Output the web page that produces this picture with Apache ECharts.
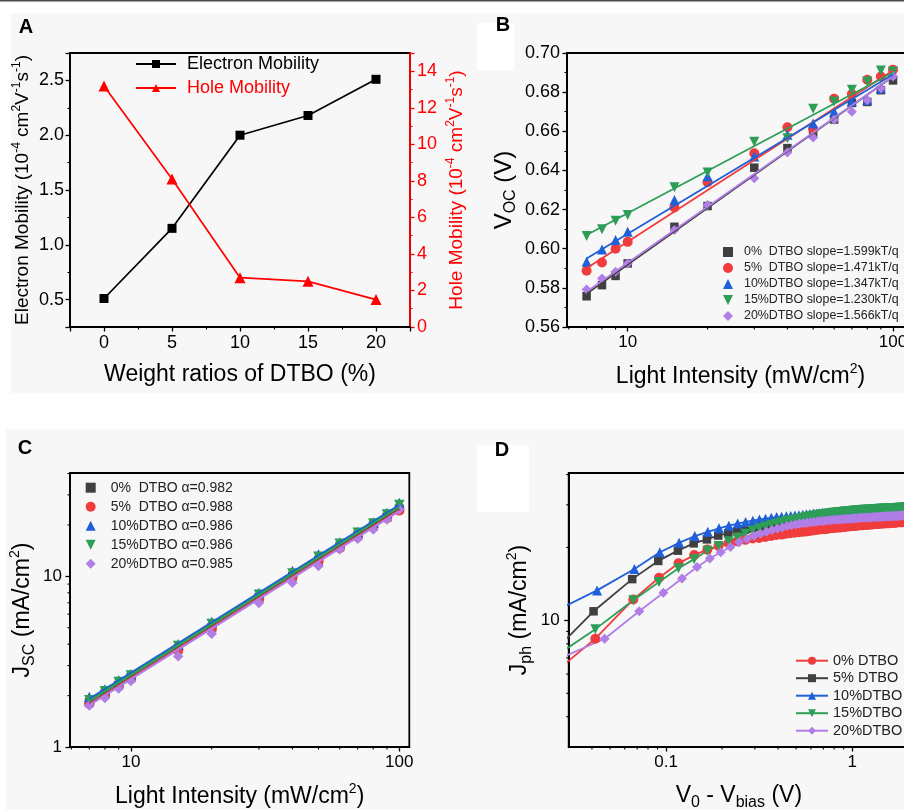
<!DOCTYPE html>
<html><head><meta charset="utf-8">
<script src="https://cdn.jsdelivr.net/npm/echarts@6/dist/echarts.min.js"></script>
<style>html,body{margin:0;padding:0;background:#fff}#c{width:904px;height:810px}</style>
</head><body><div id="c"></div>
<script>
// ---------------- Panel A ----------------
const weightRatios = [0, 5, 10, 15, 20];
const electronMobility = [0.51, 1.15, 2.00, 2.18, 2.51];
const holeMobility = [13.2, 8.1, 2.7, 2.5, 1.5];

// ---------------- Panel B ----------------
const intensity = [7, 8, 9, 10, 15, 20, 30, 40, 50, 60, 70, 80, 90, 100];
const voc0  = [0.5757, 0.5814, 0.5861, 0.5925, 0.6112, 0.6218, 0.6414, 0.6514, 0.6590, 0.6660, 0.6745, 0.6750, 0.6810, 0.6860];
const voc5  = [0.5887, 0.5930, 0.6000, 0.6035, 0.6211, 0.6340, 0.6488, 0.6621, 0.6612, 0.6766, 0.6790, 0.6863, 0.6880, 0.6915];
const voc10 = [0.5933, 0.5996, 0.6044, 0.6087, 0.6249, 0.6370, 0.6471, 0.6582, 0.6640, 0.6700, 0.6752, 0.6760, 0.6820, 0.6898];
const voc15 = [0.6065, 0.6099, 0.6143, 0.6172, 0.6314, 0.6389, 0.6547, 0.6565, 0.6715, 0.6752, 0.6812, 0.6855, 0.6911, 0.6906];
const voc20 = [0.5792, 0.5848, 0.5882, 0.5925, 0.6095, 0.6223, 0.6360, 0.6491, 0.6568, 0.6659, 0.6700, 0.6760, 0.6820, 0.6880];
const fitX = [7, 100];
const vocFit0  = [0.577, 0.688];
const vocFit5  = [0.590, 0.691];
const vocFit10 = [0.595, 0.689];
const vocFit15 = [0.607, 0.690];
const vocFit20 = [0.578, 0.688];
const namesB = ['0%  DTBO slope=1.599kT/q', '5%  DTBO slope=1.471kT/q', '10%DTBO slope=1.347kT/q', '15%DTBO slope=1.230kT/q', '20%DTBO slope=1.566kT/q'];

// ---------------- Panel C ----------------
const jsc0  = [1.82, 2.05, 2.30, 2.55, 3.75, 5.00, 7.50, 10.0, 12.4, 14.9, 17.3, 19.7, 22.2, 24.8];
const jsc5  = [1.80, 2.03, 2.28, 2.52, 3.72, 4.95, 7.40, 9.90, 12.3, 14.7, 17.1, 19.5, 22.0, 24.4];
const jsc10 = [1.96, 2.17, 2.46, 2.67, 4.00, 5.40, 7.99, 10.75, 13.4, 15.8, 18.2, 20.7, 23.5, 26.9];
const jsc15 = [1.88, 2.12, 2.40, 2.62, 3.90, 5.25, 7.80, 10.4, 13.0, 15.5, 18.0, 20.4, 23.0, 26.2];
const jsc20 = [1.75, 1.94, 2.20, 2.44, 3.40, 4.61, 6.98, 9.18, 11.5, 14.4, 16.6, 18.8, 21.5, 24.6];
const jscFit0  = [1.80, 24.7];
const jscFit5  = [1.78, 24.4];
const jscFit10 = [1.91, 26.1];
const jscFit15 = [1.86, 25.5];
const jscFit20 = [1.76, 24.1];
const namesC = ['0%  DTBO \u03b1=0.982', '5%  DTBO \u03b1=0.988', '10%DTBO \u03b1=0.986', '15%DTBO \u03b1=0.986', '20%DTBO \u03b1=0.985'];

// ---------------- Panel D ----------------
const vBias = [0.675,0.65,0.625,0.6,0.575,0.55,0.525,0.5,0.475,0.45,0.425,0.4,0.375,0.35,0.325,0.3,0.275,0.25,0.225,0.2,
  0.175,0.15,0.125,0.1,0.075,0.05,0.025,0,-0.025,-0.05,-0.075,-0.1,-0.125,-0.15,-0.175,-0.2,-0.225,-0.25,-0.275,-0.3,
  -0.325,-0.35,-0.375,-0.4,-0.425,-0.45,-0.475,-0.5,-0.525,-0.55,-0.575,-0.6,-0.625,-0.65,-0.675,-0.7,-0.725,-0.75,-0.775,-0.8,
  -0.825,-0.85,-0.875,-0.9,-0.925,-0.95,-0.975,-1,-1.025,-1.05,-1.075,-1.1,-1.125,-1.15,-1.175,-1.2,-1.225,-1.25,-1.275,-1.3];
const v0 = [0.6917, 0.6908, 0.6926, 0.6917, 0.6968];
const jph0 = [4.7,8.4,12.2,15.0,17.2,18.6,19.6,20.3,20.8,21.2,21.5,21.8,
  21.9,22.1,22.3,22.5,22.6,22.8,22.9,23.0,
  23.1,23.2,23.3,23.4,23.5,23.6,23.7,23.8,23.8,23.9,
  24.0,24.0,24.1,24.2,24.2,24.3,24.3,24.4,24.4,24.5,
  24.5,24.6,24.6,24.7,24.7,24.7,24.8,24.8,24.8,24.9,
  24.9,24.9,25.0,25.0,25.0,25.0,25.1,25.1,25.1,25.1,
  25.2,25.2,25.2,25.2,25.3,25.3,25.3,25.3,25.3,25.4,
  25.4,25.4,25.4,25.4,25.5,25.5,25.5,25.5,25.5,25.6];
const jph5 = [5.2,10.9,14.8,17.6,19.4,20.8,21.6,22.4,22.9,23.3,23.7,24.0,
  24.3,24.5,24.8,25.0,25.2,25.4,25.5,25.7,
  25.8,25.9,26.0,26.1,26.2,26.3,26.4,26.5,26.6,26.6,
  26.7,26.8,26.8,26.9,26.9,27.0,27.0,27.1,27.1,27.2,
  27.2,27.3,27.3,27.3,27.4,27.4,27.4,27.5,27.5,27.5,
  27.6,27.6,27.6,27.6,27.7,27.7,27.7,27.7,27.8,27.8,
  27.8,27.8,27.9,27.9,27.9,27.9,27.9,28.0,28.0,28.0,
  28.0,28.0,28.1,28.1,28.1,28.1,28.1,28.2,28.2,28.2];
const jph10 = [9.5,13.3,16.3,19.1,20.9,22.3,23.2,24.0,24.6,25.1,25.5,25.8,
  26.1,26.3,26.5,26.7,26.8,26.9,27.0,27.1,
  27.2,27.3,27.4,27.5,27.6,27.6,27.7,27.8,27.8,27.9,
  27.9,28.0,28.0,28.0,28.1,28.1,28.1,28.2,28.2,28.2,
  28.3,28.3,28.3,28.3,28.4,28.4,28.4,28.4,28.5,28.5,
  28.5,28.5,28.5,28.6,28.6,28.6,28.6,28.6,28.7,28.7,
  28.7,28.7,28.7,28.7,28.8,28.8,28.8,28.8,28.8,28.8,
  28.9,28.9,28.9,28.9,28.9,28.9,29.0,29.0,29.0,29.0];
const jph15 = [5.7,9.2,12.1,14.4,16.4,17.9,19.4,20.3,21.2,22.0,22.8,23.5,
  24.0,24.4,24.8,25.1,25.4,25.7,25.9,26.1,
  26.3,26.5,26.7,26.9,27.0,27.2,27.3,27.4,27.5,27.6,
  27.7,27.8,27.9,28.0,28.0,28.1,28.2,28.2,28.3,28.3,
  28.4,28.4,28.5,28.5,28.5,28.6,28.6,28.6,28.7,28.7,
  28.7,28.8,28.8,28.8,28.8,28.9,28.9,28.9,28.9,29.0,
  29.0,29.0,29.0,29.0,29.1,29.1,29.1,29.1,29.1,29.1,
  29.2,29.2,29.2,29.2,29.2,29.2,29.3,29.3,29.3,29.3];
const jph20 = [6.5,8.4,10.9,13.0,14.9,16.6,18.0,19.1,20.1,21.0,21.7,22.3,
  22.8,23.2,23.6,23.9,24.2,24.5,24.7,24.9,
  25.1,25.2,25.3,25.4,25.5,25.6,25.7,25.7,25.8,25.9,
  25.9,26.0,26.0,26.1,26.1,26.2,26.2,26.3,26.3,26.3,
  26.4,26.4,26.4,26.5,26.5,26.5,26.5,26.6,26.6,26.6,
  26.6,26.7,26.7,26.7,26.7,26.8,26.8,26.8,26.8,26.8,
  26.9,26.9,26.9,26.9,26.9,27.0,27.0,27.0,27.0,27.0,
  27.0,27.1,27.1,27.1,27.1,27.1,27.1,27.2,27.2,27.2];
const namesD = ['0% DTBO', '5% DTBO', '10%DTBO', '15%DTBO', '20%DTBO'];

// minor tick values for log axes
const minorTicksIntensity = [6, 7, 8, 9, 20, 30, 40, 50, 60, 70, 80, 90];
const minorTicksJsc = [2, 3, 4, 5, 6, 7, 8, 9, 20, 30, 40];
const minorTicksVolt = [0.04, 0.05, 0.06, 0.07, 0.08, 0.09, 0.2, 0.3, 0.4, 0.5, 0.6, 0.7, 0.8, 0.9, 2];
const minorTicksJph = [4, 5, 6, 7, 8, 9, 20, 30, 40];

// ---------------- styling ----------------
const FONT = 'Liberation Sans, Arial, Helvetica, sans-serif';
const DOWN_TRI = 'path://M0,0L10,0L5,10Z';
const COL = ['#f03c3c', '#404040', '#1f5fd8', '#2e9e57', '#b07ee6']; // D order: 0%,5%,10%,15%,20%
const COLB = ['#404040', '#f03c3c', '#1f5fd8', '#2e9e57', '#b07ee6']; // B,C order
const SYMB = ['rect', 'circle', 'triangle', DOWN_TRI, 'diamond'];
const SYMD = ['circle', 'rect', 'triangle', DOWN_TRI, 'diamond'];

const gA = {left: 70, top: 53, width: 340, height: 274};
const gB = {left: 567, top: 53, width: 347, height: 274};
const gC = {left: 70, top: 473, width: 339.3, height: 274};
const gD = {left: 568.7, top: 473, width: 372.3, height: 274};

function grid(g) {
  return Object.assign({show: true, borderColor: '#000', borderWidth: 1.8, backgroundColor: 'transparent',
    containLabel: false, outerBoundsMode: 'none'}, g);
}

const richSS = (fs, col) => ({
  sup: {fontSize: Math.round(fs * 0.62), lineHeight: Math.round(fs * 0.62), verticalAlign: 'top', fontFamily: FONT, color: col},
  sub: {fontSize: Math.round(fs * 0.68), lineHeight: Math.round(fs * 0.7), verticalAlign: 'bottom', fontFamily: FONT, color: col}
});

function axis(o) {
  const col = o.color || '#000';
  const a = {
    type: o.type || 'value',
    gridIndex: o.gridIndex,
    position: o.position,
    min: o.min, max: o.max,
    name: o.name, nameLocation: 'middle', nameGap: o.nameGap,
    nameTextStyle: Object.assign({color: col, fontFamily: FONT, fontSize: o.nameSize || 23,
      lineHeight: o.nameLH || 30, rich: richSS(o.nameSize || 23, col)}, o.nameExtra || {}),
    splitLine: {show: false},
    axisLine: {show: true, onZero: false, lineStyle: {color: col, width: 1.8}},
    axisTick: {show: true, inside: false, length: 4.5, lineStyle: {color: col, width: 1.3}},
    minorTick: {show: !!o.minor, splitNumber: o.minor || 2, length: 2.5, lineStyle: {color: col, width: 1.1}},
    axisLabel: {color: col, fontSize: o.labelSize || 18, fontFamily: FONT, margin: o.margin || 7,
      showMinLabel: o.showMin, showMaxLabel: o.showMax, formatter: o.formatter}
  };
  if (o.interval !== undefined) a.interval = o.interval;
  if (o.splitNumber !== undefined) a.splitNumber = o.splitNumber;
  return a;
}

const xAxes = [
  axis({gridIndex: 0, min: -2.5, max: 22.5, splitNumber: 5, minor: 2, showMin: false, showMax: false,
        name: 'Weight ratios of DTBO (%)', nameGap: 34, nameLH: 28}),
  axis({gridIndex: 1, type: 'log', min: 5.905, max: 120, showMin: false, showMax: false,
        name: 'Light Intensity (mW/cm{sup|2})', nameGap: 35, labelSize: 17}),
  axis({gridIndex: 2, type: 'log', min: 5.93, max: 109, showMin: false, showMax: false,
        name: 'Light Intensity (mW/cm{sup|2})', nameGap: 35, labelSize: 17}),
  axis({gridIndex: 3, type: 'log', min: 0.03, max: 3, showMin: false, showMax: false,
        name: 'V{sub|0} - V{sub|bias} (V)', nameGap: 34, labelSize: 17, nameExtra: {padding: [0, 32, 0, 0]}})
];
const yAxes = [
  axis({gridIndex: 0, position: 'left', min: 0.25, max: 2.75, splitNumber: 5, minor: 2, showMin: false, showMax: false,
        formatter: v => v.toFixed(1), margin: 6,
        name: 'Electron Mobility (10{sup|-4} cm{sup|2}V{sup|-1}s{sup|-1})', nameGap: 33, nameSize: 19, nameLH: 24}),
  axis({gridIndex: 0, position: 'right', min: 0, max: 15, interval: 2, minor: 2, showMax: false, color: '#ff0000',
        margin: 7,
        name: 'Hole Mobility (10{sup|-4} cm{sup|2}V{sup|-1}s{sup|-1})', nameGap: 35, nameSize: 19, nameLH: 24}),
  axis({gridIndex: 1, min: 0.56, max: 0.70, interval: 0.02, minor: 2, formatter: v => v.toFixed(2), margin: 7,
        name: 'V{sub|OC} (V)', nameGap: 48, nameSize: 24}),
  axis({gridIndex: 2, type: 'log', min: 1, max: 40.3, showMax: false, labelSize: 17, margin: 8,
        name: 'J{sub|SC} (mA/cm{sup|2})', nameGap: 32}),
  axis({gridIndex: 3, type: 'log', min: 3, max: 40.6, showMin: false, showMax: false, labelSize: 17, margin: 9,
        name: 'J{sub|ph} (mA/cm{sup|2})', nameGap: 34})
];

// ---------------- series ----------------
const series = [];
series.push({type: 'line', name: 'Electron Mobility', xAxisIndex: 0, yAxisIndex: 0,
  data: weightRatios.map((x, i) => [x, electronMobility[i]]),
  symbol: 'rect', symbolSize: 9, lineStyle: {color: '#000', width: 1.7}, itemStyle: {color: '#000'}, z: 3});
series.push({type: 'line', name: 'Hole Mobility', xAxisIndex: 0, yAxisIndex: 1,
  data: weightRatios.map((x, i) => [x, holeMobility[i]]),
  symbol: 'triangle', symbolSize: 11, lineStyle: {color: '#ff0000', width: 1.7}, itemStyle: {color: '#ff0000'}, z: 3});

const vocSets = [voc0, voc5, voc10, voc15, voc20];
const vocFits = [vocFit0, vocFit5, vocFit10, vocFit15, vocFit20];
vocSets.forEach((ys, s) => {
  series.push({type: 'scatter', name: namesB[s], xAxisIndex: 1, yAxisIndex: 2,
    data: intensity.map((x, i) => [x, ys[i]]), symbol: SYMB[s], symbolSize: s === 0 ? 8.5 : 10,
    itemStyle: {color: COLB[s], opacity: 1}, z: 2});
});
vocFits.forEach((ys, s) => {
  series.push({type: 'line', name: 'fitB' + s, xAxisIndex: 1, yAxisIndex: 2,
    data: fitX.map((x, i) => [x, ys[i]]), symbol: 'none', lineStyle: {color: COLB[s], width: 1.8}, z: 3});
});

const jscSets = [jsc0, jsc5, jsc10, jsc15, jsc20];
const jscFits = [jscFit0, jscFit5, jscFit10, jscFit15, jscFit20];
jscSets.forEach((ys, s) => {
  series.push({type: 'scatter', name: namesC[s], xAxisIndex: 2, yAxisIndex: 3,
    data: intensity.map((x, i) => [x, ys[i]]), symbol: SYMB[s], symbolSize: s === 0 ? 9 : 10.5,
    itemStyle: {color: COLB[s], opacity: 1}, z: 2});
});
jscFits.forEach((ys, s) => {
  series.push({type: 'line', name: 'fitC' + s, xAxisIndex: 2, yAxisIndex: 3,
    data: fitX.map((x, i) => [x, ys[i]]), symbol: 'none', lineStyle: {color: COLB[s], width: 2.2}, z: 3});
});

const jphSets = [jph0, jph5, jph10, jph15, jph20];
jphSets.forEach((ys, s) => {
  series.push({type: 'line', name: namesD[s], xAxisIndex: 3, yAxisIndex: 4,
    data: vBias.map((vb, i) => [v0[s] - vb, ys[i]]), symbol: SYMD[s],
    symbolSize: SYMD[s] === 'rect' ? 8.5 : 10, showAllSymbol: true,
    lineStyle: {color: COL[s], width: 1.8}, itemStyle: {color: COL[s]}, z: 2});
});

// ---------------- legends ----------------
const legends = [
  {data: [{name: 'Electron Mobility', textStyle: {color: '#000'}}, {name: 'Hole Mobility', textStyle: {color: '#ff0000'}}],
   left: 135, top: 55, itemWidth: 40, itemHeight: 10, itemGap: 6,
   textStyle: {fontSize: 18, lineHeight: 17, fontFamily: FONT, padding: [0, 0, 0, 6]}},
  {data: namesB, left: 723, top: 245, itemWidth: 10, itemHeight: 10, itemGap: 2,
   textStyle: {fontSize: 12.4, lineHeight: 14, color: '#222', fontFamily: FONT, padding: [0, 0, 0, 6]}},
  {data: namesC, left: 85.7, top: 479.7, itemWidth: 10, itemHeight: 10, itemGap: 3,
   textStyle: {fontSize: 14, lineHeight: 16, color: '#222', fontFamily: FONT, padding: [0, 0, 0, 10]}},
  {data: namesD, left: 795, top: 652.7, itemWidth: 32, itemHeight: 10, itemGap: 1.5,
   textStyle: {fontSize: 14.5, lineHeight: 16, color: '#222', fontFamily: FONT}}
].map(l => Object.assign({orient: 'vertical', padding: 0, selectedMode: false}, l));

// ---------------- decoration ----------------
const deco = [
  {type: 'rect', shape: {x: 0, y: 0, width: 904, height: 1.5}, style: {fill: '#4a4a4a'}, z: -100},
  {type: 'rect', shape: {x: 11, y: 13, width: 893, height: 380}, style: {fill: '#f7f7f7'}, z: -100},
  {type: 'rect', shape: {x: 6, y: 429, width: 898, height: 381}, style: {fill: '#f7f7f7'}, z: -100},
  {type: 'rect', shape: {x: 477, y: 23, width: 37, height: 47}, style: {fill: '#ffffff'}, z: -99},
  {type: 'rect', shape: {x: 477, y: 445, width: 52, height: 67}, style: {fill: '#ffffff'}, z: -99},
  {type: 'text', x: 26, y: 27, style: {text: 'A', font: 'bold 20px ' + FONT, fill: '#000', align: 'center', verticalAlign: 'middle'}},
  {type: 'text', x: 503, y: 25, style: {text: 'B', font: 'bold 20px ' + FONT, fill: '#000', align: 'center', verticalAlign: 'middle'}},
  {type: 'text', x: 25, y: 448, style: {text: 'C', font: 'bold 20px ' + FONT, fill: '#000', align: 'center', verticalAlign: 'middle'}},
  {type: 'text', x: 502, y: 450, style: {text: 'D', font: 'bold 20px ' + FONT, fill: '#000', align: 'center', verticalAlign: 'middle'}}
];

const chart = echarts.init(document.getElementById('c'), null, {renderer: 'canvas', width: 904, height: 810});
chart.setOption({
  animation: false,
  backgroundColor: '#ffffff',
  textStyle: {fontFamily: FONT},
  grid: [grid(gA), grid(gB), grid(gC), grid(gD)],
  xAxis: xAxes,
  yAxis: yAxes,
  legend: legends,
  series: series,
  graphic: deco
});

// minor ticks for the log axes, positioned by the library's own scales
function minorX(axisIdx, g, vals, lo, hi) {
  const b = g.top + g.height;
  return vals.filter(v => v > lo && v < hi).map(v => {
    const p = chart.convertToPixel({xAxisIndex: axisIdx}, v);
    return {type: 'line', shape: {x1: p, y1: b, x2: p, y2: b + 2.5}, style: {stroke: '#000', lineWidth: 1.1}, z: 10};
  });
}
function minorY(axisIdx, g, vals, lo, hi) {
  const l = g.left;
  return vals.filter(v => v > lo && v < hi).map(v => {
    const p = chart.convertToPixel({yAxisIndex: axisIdx}, v);
    return {type: 'line', shape: {x1: l - 2.5, y1: p, x2: l, y2: p}, style: {stroke: '#000', lineWidth: 1.1}, z: 10};
  });
}
const ticks = [].concat(
  minorX(1, gB, minorTicksIntensity, 5.905, 120),
  minorX(2, gC, minorTicksIntensity, 5.93, 109),
  minorY(3, gC, minorTicksJsc, 1, 40.3),
  minorX(3, gD, minorTicksVolt, 0.03, 3),
  minorY(4, gD, minorTicksJph, 3, 40.6)
);
chart.setOption({graphic: deco.concat(ticks)});
</script>
</body></html>
